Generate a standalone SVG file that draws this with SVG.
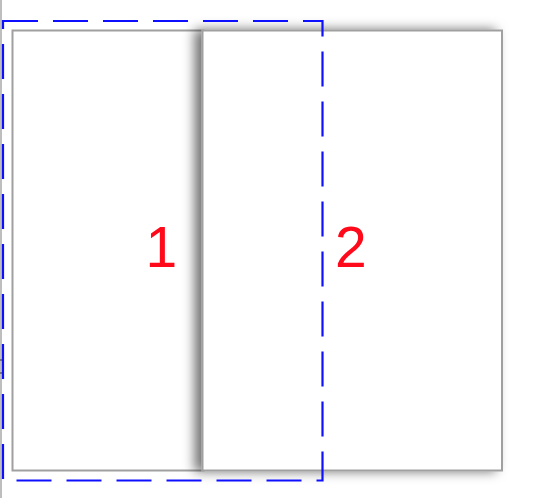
<svg xmlns="http://www.w3.org/2000/svg" width="534" height="498" viewBox="0 0 534 498">
  <style>
    .page { fill: #ffffff; stroke: #a0a0a0; stroke-width: 2; }
    .label { font-family: "Liberation Sans", Arial, sans-serif; font-size: 57px; fill: #ff0a1a; }
    .sel { fill: none; stroke: #0f0fff; stroke-width: 2.2; stroke-dasharray: 35 15; }
  </style>
  <defs>
    <filter id="shadow" x="-20%" y="-10%" width="140%" height="120%">
      <feDropShadow dx="-7" dy="0" stdDeviation="6" flood-color="#000000" flood-opacity="0.55"/>
    </filter>
  </defs>
  <rect width="534" height="498" fill="#ffffff"/>
  <line x1="1" y1="0" x2="1" y2="498" stroke="#a8a8a8" stroke-width="1.5"/>
  <line x1="0" y1="360" x2="2.5" y2="360" stroke="#333333" stroke-width="1"/>
  <line x1="0" y1="373" x2="2.5" y2="373" stroke="#333333" stroke-width="1"/>
  <g id="page1">
    <rect class="page" x="12.5" y="30.5" width="191" height="440"/>
    <text class="label" x="145.5" y="267">1</text>
  </g>
  <g id="page2">
    <rect class="page" x="202.5" y="30.5" width="299.5" height="440" filter="url(#shadow)"/>
    <text class="label" x="335" y="267">2</text>
  </g>
  <g id="selection">
    <rect class="sel" x="3" y="21" width="319.5" height="459.5"/>
  </g>
</svg>
